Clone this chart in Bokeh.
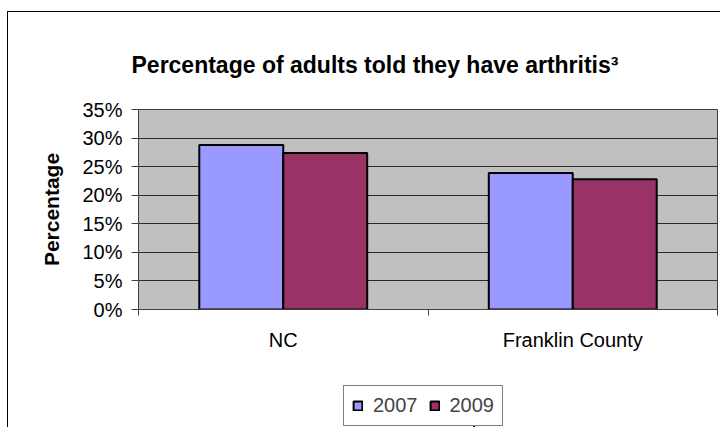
from bokeh.plotting import figure
from bokeh.layouts import column
from bokeh.models import (ColumnDataSource, Range1d, FixedTicker, NumeralTickFormatter,
                          Legend, LegendItem, Title)
from bokeh.embed import file_html
from bokeh.resources import INLINE

# ---- data ----
categories = ["NC", "Franklin County"]
years = ["2007", "2009"]
values_2007 = [0.288, 0.239]
values_2009 = [0.274, 0.228]
y_ticks = [0.0, 0.05, 0.10, 0.15, 0.20, 0.25, 0.30, 0.35]
colors = ["#9999FF", "#993366"]
title_text = "Percentage of adults told they have arthritis\u00b3"
y_label_text = "Percentage"

FONT = "Liberation Sans"
bar_w = 0.29

centers = [i + 0.5 for i in range(len(categories))]
src = ColumnDataSource(dict(
    x07=[c - bar_w / 2 for c in centers],
    x09=[c + bar_w / 2 for c in centers],
    v07=values_2007, v09=values_2009))

p = figure(frame_width=579, frame_height=200, output_backend="svg", toolbar_location=None,
           x_range=Range1d(0, len(categories)), y_range=Range1d(0, 0.35),
           min_border_left=130, min_border_right=3, min_border_top=97, min_border_bottom=76)
p.background_fill_color = "#C0C0C0"
p.border_fill_color = "white"
p.outline_line_color = "#404040"
p.outline_line_width = 1

r1 = p.vbar(x="x07", top="v07", width=bar_w, bottom=0, source=src,
            fill_color=colors[0], line_color="black", line_width=2)
r2 = p.vbar(x="x09", top="v09", width=bar_w, bottom=0, source=src,
            fill_color=colors[1], line_color="black", line_width=2)

# y axis
p.yaxis.ticker = FixedTicker(ticks=y_ticks)
p.yaxis.formatter = NumeralTickFormatter(format="0%")
p.yaxis.major_label_text_font = FONT
p.yaxis.major_label_text_font_size = "20px"
p.yaxis.major_label_text_color = "black"
p.yaxis.major_tick_out = 7
p.yaxis.major_tick_in = 0
p.yaxis.minor_tick_line_color = None
p.yaxis.major_label_standoff = 9
p.yaxis.axis_line_color = "#404040"
p.yaxis.major_tick_line_color = "#404040"
p.yaxis.axis_label = y_label_text
p.yaxis.axis_label_text_font = FONT
p.yaxis.axis_label_text_font_size = "21px"
p.yaxis.axis_label_text_font_style = "bold"
p.yaxis.axis_label_text_color = "black"
p.yaxis.axis_label_standoff = 16

# x axis
p.xaxis.ticker = FixedTicker(ticks=centers, minor_ticks=list(range(len(categories) + 1)))
p.xaxis.major_label_overrides = {c: name for c, name in zip(centers, categories)}
p.xaxis.major_label_text_font = FONT
p.xaxis.major_label_text_font_size = "20px"
p.xaxis.major_label_text_color = "black"
p.xaxis.major_tick_line_color = None
p.xaxis.major_tick_out = 0
p.xaxis.major_tick_in = 0
p.xaxis.minor_tick_out = 6
p.xaxis.minor_tick_in = 0
p.xaxis.minor_tick_line_color = "#404040"
p.xaxis.major_label_standoff = 13
p.xaxis.axis_line_color = "#404040"

p.xgrid.grid_line_color = None
p.ygrid.grid_line_color = "#2b2b2b"
p.ygrid.grid_line_width = 1

# title
p.add_layout(Title(text=title_text, align="left", offset=-7, standoff=60,
                   vertical_align="top",
                   text_font=FONT, text_font_size="23px", text_font_style="bold",
                   text_color="black"), "above")

# legend (own small figure below the chart, same data and colours)
lf = figure(frame_width=166, frame_height=42, output_backend="svg", toolbar_location=None,
            x_range=Range1d(10, 11), y_range=Range1d(0, 0.35),
            x_axis_type=None, y_axis_type=None,
            min_border_left=0, min_border_right=0, min_border_top=0, min_border_bottom=0)
lf.outline_line_color = None
lf.background_fill_color = "white"
lf.border_fill_color = "white"
lf.xgrid.visible = False
lf.ygrid.visible = False
l1 = lf.vbar(x="x07", top="v07", width=bar_w, bottom=0, source=src,
             fill_color=colors[0], line_color="black", line_width=2)
l2 = lf.vbar(x="x09", top="v09", width=bar_w, bottom=0, source=src,
             fill_color=colors[1], line_color="black", line_width=2)
legend = Legend(items=[LegendItem(label=years[0], renderers=[l1]),
                       LegendItem(label=years[1], renderers=[l2])],
                orientation="horizontal", location="top_left")
legend.border_line_color = "black"
legend.border_line_width = 1
legend.background_fill_color = "white"
legend.background_fill_alpha = 1
legend.label_text_font = FONT
legend.label_text_font_size = "20px"
legend.glyph_width = 11
legend.glyph_height = 11
legend.label_standoff = 10
legend.spacing = 11
legend.padding = 8
legend.margin = 0
lf.add_layout(legend)
lf.margin = (0, 0, 0, 335)

layout = column(p, lf, spacing=0)
layout.margin = (11, 0, 0, 7)
layout.styles = {"border-left": "1px solid black", "border-top": "1px solid black"}

open("out.html", "w").write(file_html(layout, INLINE))
